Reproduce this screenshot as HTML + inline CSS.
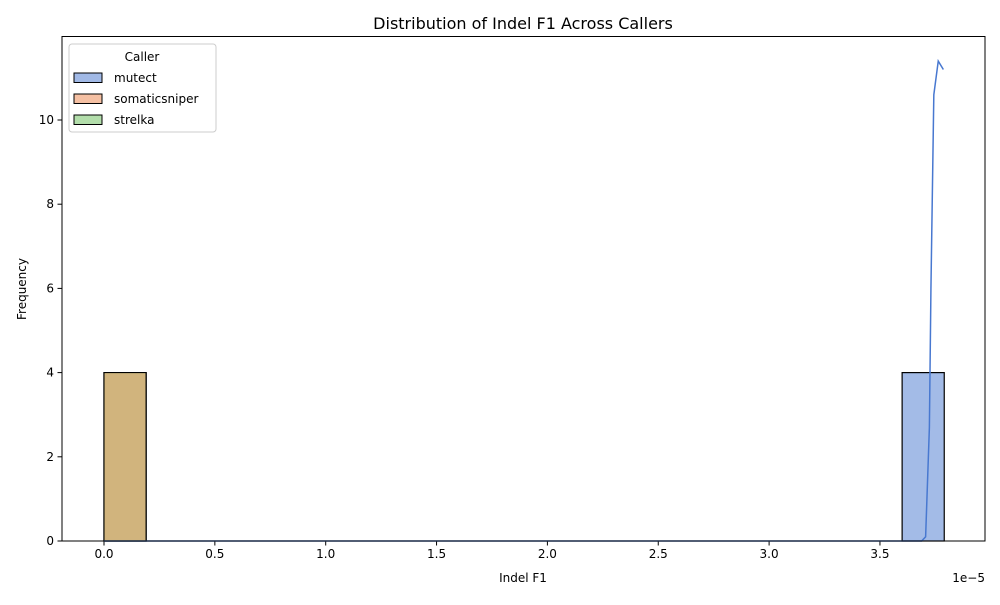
<!DOCTYPE html>
<html><head><meta charset="utf-8"><style>
body{margin:0;background:#fff;font-family:"Liberation Sans","DejaVu Sans",sans-serif}
svg text{font-family:"DejaVu Sans","Liberation Sans",sans-serif}
</style></head><body>
<svg id="chart" width="1000" height="600" xmlns="http://www.w3.org/2000/svg">
<rect width="1000" height="600" fill="#fff"/>
<text x="523" y="29" font-size="16" text-anchor="middle">Distribution of Indel F1 Across Callers</text>
<g id="plot"></g>
<rect x="62" y="36.5" width="923" height="504.5" fill="none" stroke="#000" stroke-width="1"/>
<text x="523" y="582" font-size="12" text-anchor="middle">Indel F1</text>
<text x="26" y="289" font-size="12" text-anchor="middle" transform="rotate(-90 26 289)">Frequency</text>
<text x="985" y="582" font-size="12" text-anchor="end">1e−5</text>
<g>
<rect x="69" y="44" width="147" height="88" rx="3" fill="#fff" stroke="#ccc"/>
<text x="142" y="61" font-size="12" text-anchor="middle">Caller</text>
<g><rect x="74" y="73" width="28" height="9.5" fill="#a1b9e6" stroke="#000"/><text x="114" y="82" font-size="12">mutect</text></g>
<g><rect x="74" y="94" width="28" height="9.5" fill="#f5c0a3" stroke="#000"/><text x="114" y="103" font-size="12">somaticsniper</text></g>
<g><rect x="74" y="115" width="28" height="9.5" fill="#b3deab" stroke="#000"/><text x="114" y="124" font-size="12">strelka</text></g>
</g>
</svg>
<script>
const xTicks=[0,0.5,1.0,1.5,2.0,2.5,3.0,3.5];
const yTicks=[0,2,4,6,8,10];
const binStarts=[0,3.60];
const binWidth=0.19;
const mutectCounts=[0,4];
const sniperCounts=[4,0];
const strelkaCounts=[4,0];
const kdeX=[0,3.688,3.706,3.723,3.73,3.743,3.763,3.786];
const kdeY=[0,0,0.1,2.7,6,10.6,11.4,11.2];
const X=v=>104+v*221.7, Y=v=>541-v*42.1;
const NS="http://www.w3.org/2000/svg";
const g=document.getElementById('plot');
function mk(t,a){const e=document.createElementNS(NS,t);for(const k in a)e.setAttribute(k,a[k]);g.appendChild(e);return e;}
xTicks.forEach(t=>{
 const l=mk('line',{x1:X(t),x2:X(t),y1:541,y2:545.5,stroke:'#000'});
 
 
 const s=mk('text',{x:X(t),y:558,'font-size':12,'text-anchor':'middle'});s.textContent=t.toFixed(1);
 
 
});
yTicks.forEach(t=>{
 const l=mk('line',{x1:57.5,x2:62,y1:Y(t),y2:Y(t),stroke:'#000'});
 
 
 const s=mk('text',{x:54,y:Y(t)+4,'font-size':12,'text-anchor':'end'});s.textContent=t;
 
 
});
function bars(counts,fill,op,name){counts.forEach((c,i)=>{if(!c)return;
 const r=mk('rect',{x:X(binStarts[i]),y:Y(c),width:X(binWidth)-X(0),height:Y(0)-Y(c),fill:fill,'fill-opacity':op,stroke:'#000','stroke-width':1.2});
 
 });}
bars(mutectCounts,'#4878d0',0.5,'bar-mutect');
bars(sniperCounts,'#ee854a',0.5,'bar-somaticsniper');
bars(strelkaCounts,'#6acc64',0.5,'bar-strelka');
const tan=mk('rect',{x:X(binStarts[0])+0.6,y:Y(sniperCounts[0])+0.6,width:X(binWidth)-X(0)-1.2,height:Y(0)-Y(sniperCounts[0])-1.2,fill:'#d1b47d'});


const kd=mk('polyline',{points:kdeX.map((x,i)=>X(x)+','+Y(kdeY[i])).join(' '),fill:'none',stroke:'#4878d0','stroke-width':1.5});


</script>
</body></html>
